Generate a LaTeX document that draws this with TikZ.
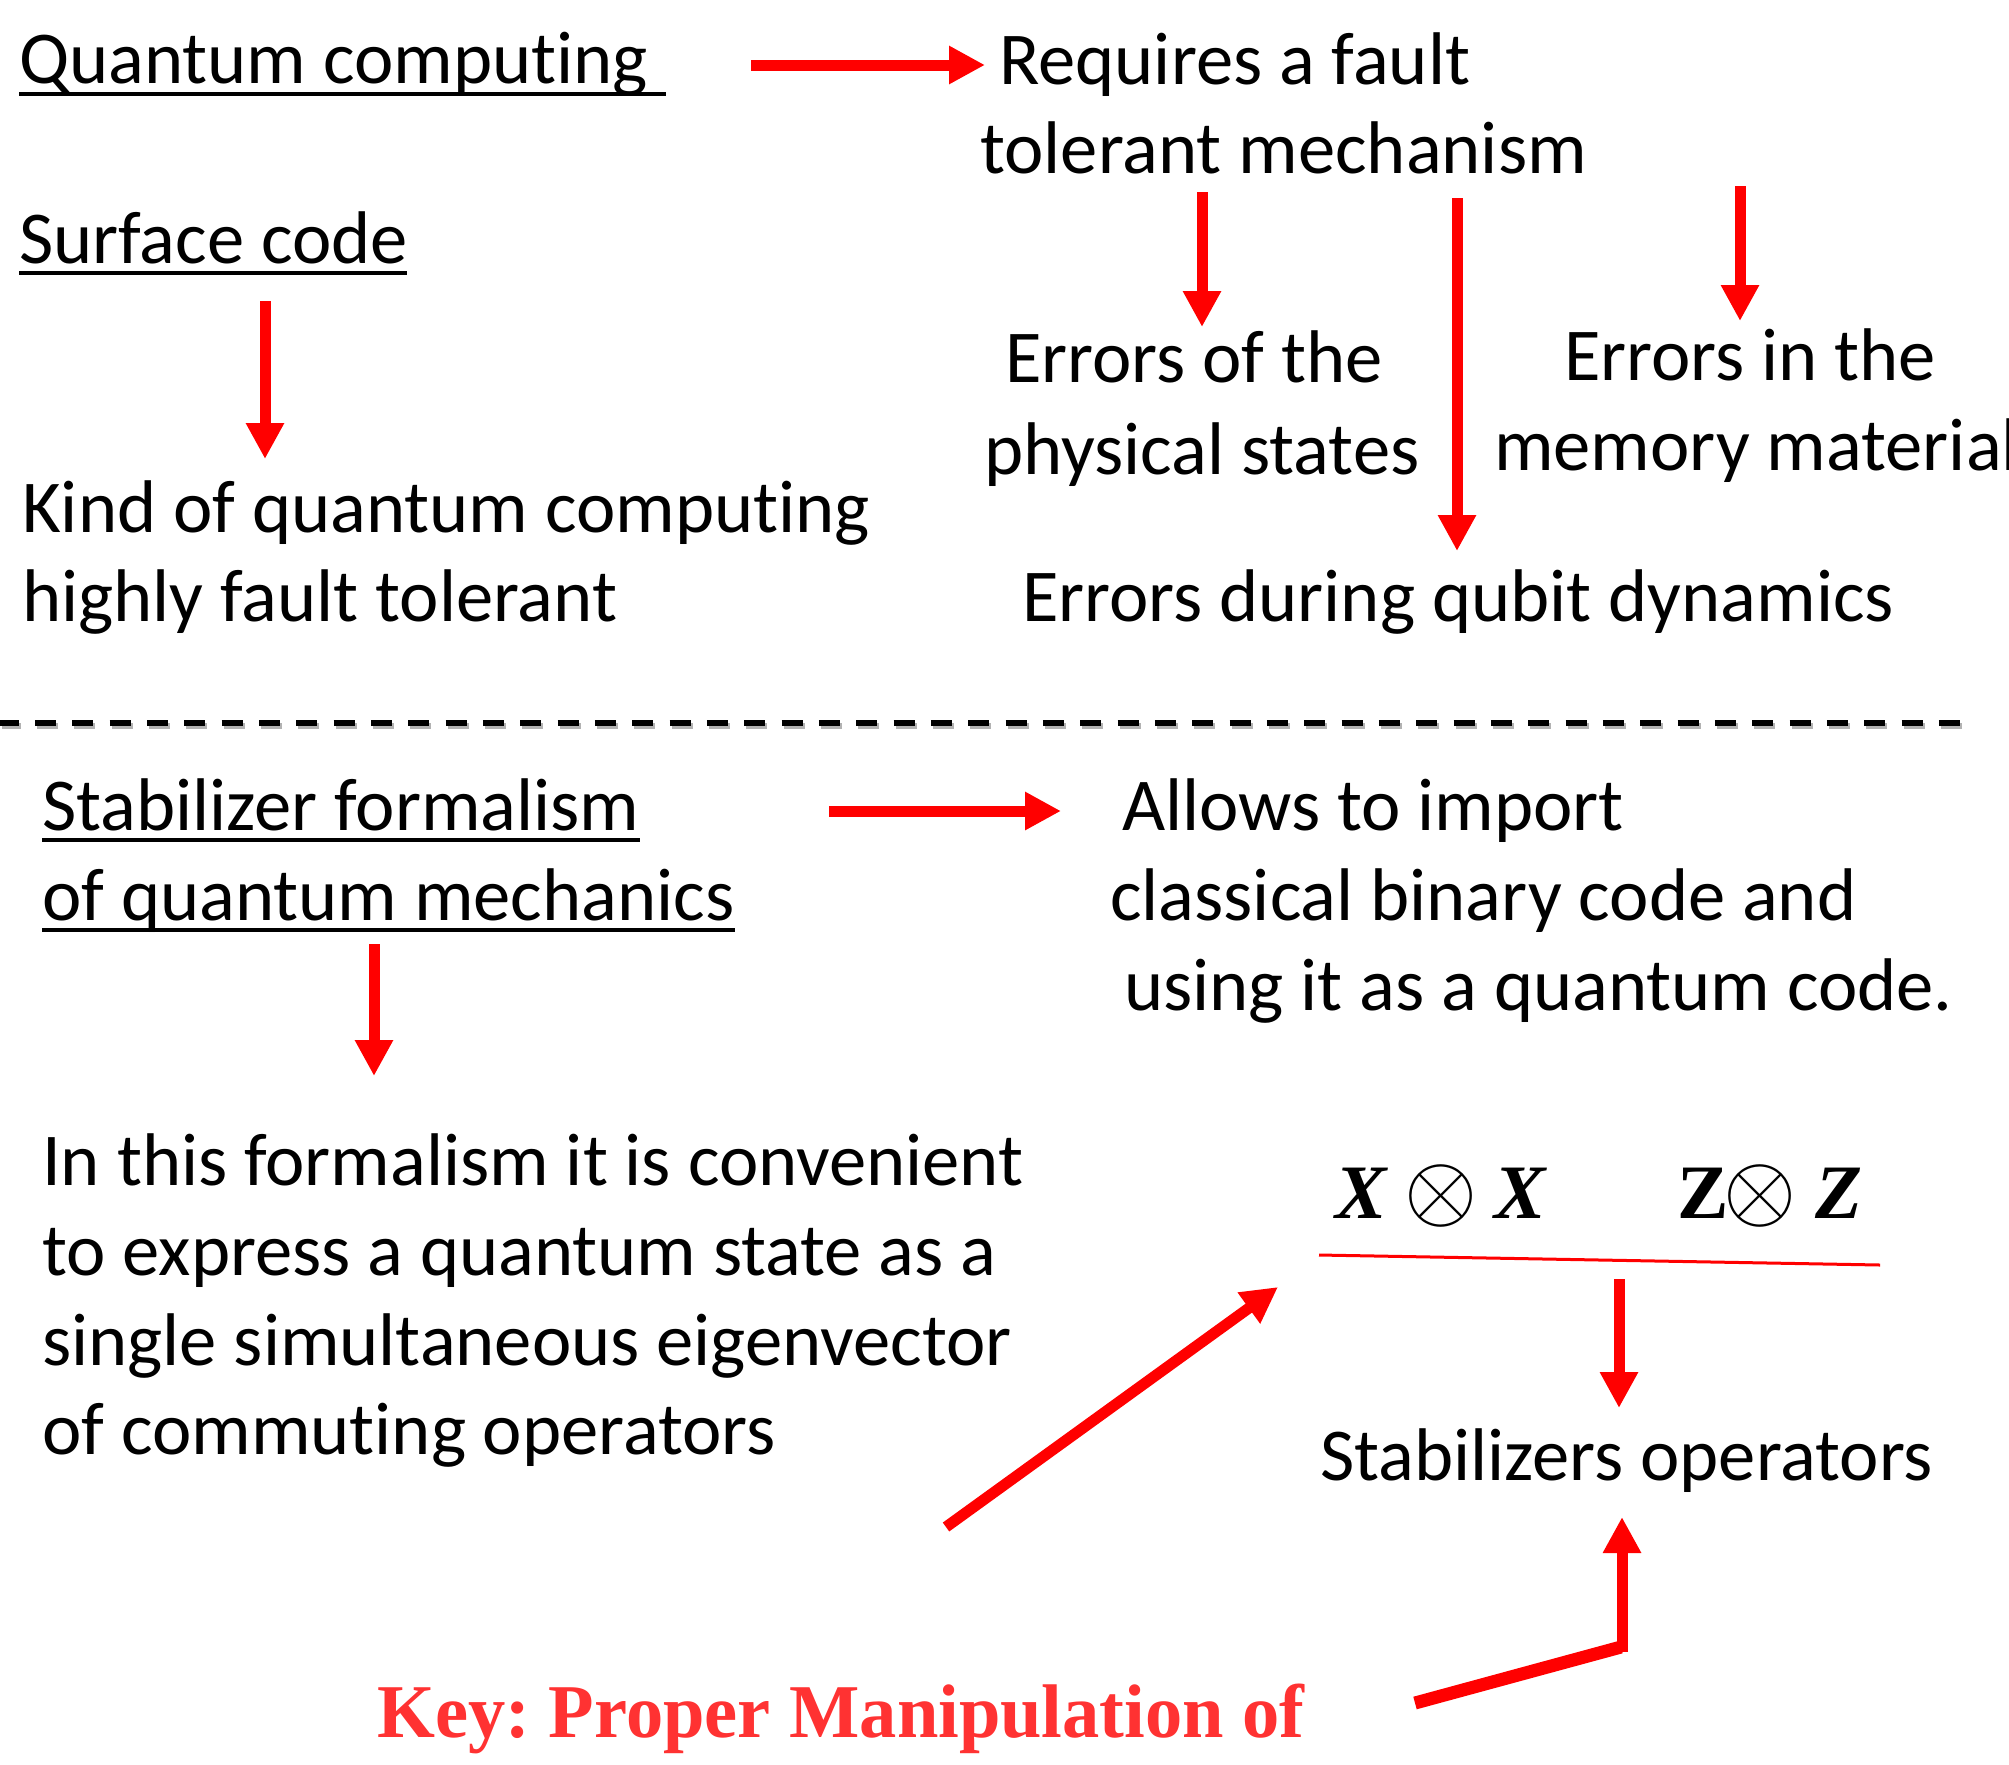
\documentclass[tikz,border=0pt]{standalone}
\usepackage{fontspec}
\setmainfont{Carlito}[Ligatures={NoCommon,NoContextual}, RawFeature={-liga;-clig;-dlig;-calt}]
\newfontfamily\keyfont{Liberation Serif}
\usetikzlibrary{arrows.meta}
\definecolor{keyred}{RGB}{255,50,50}
\frenchspacing
\tikzset{
  txt/.style={anchor=base west, inner sep=0pt, font=\fontsize{74.6}{90}\selectfont},
  ctxt/.style={anchor=base, inner sep=0pt, font=\fontsize{74.6}{90}\selectfont},
  redarrow/.style={draw=red, line width=11pt, -{Triangle[width=36pt,length=36pt]}},
  uline/.style={draw=black, line width=4pt},
  optxt/.style={anchor=base west, inner sep=0pt, font=\keyfont\bfseries\itshape\fontsize{77}{80}\selectfont},
  otimesnode/.style={inner sep=0pt},
}
\begin{document}
\begin{tikzpicture}[x=1pt,y=-1pt]
\useasboundingbox (0,0) rectangle (2009,1764);
% top section
\node[txt] (qc) at (19,83) {Quantum computing};
\draw[uline] (19,94) -- (666,94);
\node[txt] (rq1) at (999,84) {Requires a fault};
\node[txt] (rq2) at (980,173) {tolerant mechanism};
\node[txt] (sc) at (19,263) {Surface code};
\draw[uline] (19,273) -- (407,273);
\node[txt] (kind1) at (22,532) {Kind of quantum computing};
\node[txt] (kind2) at (22,621) {highly fault tolerant};
\node[ctxt] (eo1) at (1194,382) {Errors of the};
\node[ctxt] (eo2) at (1202,474) {physical states};
\node[ctxt] (ei1) at (1750,380) {Errors in the};
\node[txt] (ei2) at (1494,470) {memory material};
\node[txt] (ed) at (1022,621) {Errors during qubit dynamics};
% arrows top
\coordinate (a1s) at (751,65);  \coordinate (a1e) at (985,65);
\coordinate (a2s) at (265,301); \coordinate (a2e) at (265,459);
\coordinate (a3s) at (1202,192); \coordinate (a3e) at (1202,327);
\coordinate (a4s) at (1457,198); \coordinate (a4e) at (1457,551);
\coordinate (a5s) at (1740,186); \coordinate (a5e) at (1740,321);
\draw[redarrow] (a1s) -- (a1e);
\draw[redarrow] (a2s) -- (a2e);
\draw[redarrow] (a3s) -- (a3e);
\draw[redarrow] (a4s) -- (a4e);
\draw[redarrow] (a5s) -- (a5e);
% dashed separator
\coordinate (d1) at (0,723); \coordinate (d2) at (1961,723);
\draw[black!30, line width=6pt, dash pattern=on 21pt off 16.33pt, dash phase=2.3pt] ([xshift=2pt,yshift=-3pt]d1) -- ([xshift=2pt,yshift=-3pt]d2);
\draw[black, line width=6pt, dash pattern=on 21pt off 16.33pt, dash phase=2.3pt] (d1) -- (d2);
% bottom section
\node[txt] (sf1) at (42,830) {Stabilizer formalism};
\draw[uline] (42,840) -- (sf1.base east |- 0,840);
\node[txt] (sf2) at (42,920) {of quantum mechanics};
\draw[uline] (42,930) -- (sf2.base east |- 0,930);
\node[txt] (al1) at (1122,830) {Allows to import};
\node[txt] (al2) at (1110,920) {classical binary code and};
\node[txt] (al3) at (1124,1010) {using it as a quantum code.};
\node[txt] (in1) at (42,1185) {In this formalism it is convenient};
\node[txt] (in2) at (42,1275) {to express a quantum state as a};
\node[txt] (in3) at (42,1365) {single simultaneous eigenvector};
\node[txt] (in4) at (42,1454) {of commuting operators};
% operators
\node[optxt] (x1) at (1335,1218) {X};
\node[otimesnode] (o1) at (1441,1196) {\scalebox{9.4}{$\otimes$}};
\node[optxt] (x2) at (1494,1218) {X};
\node[optxt, font=\keyfont\bfseries\fontsize{77}{80}\selectfont] (z1) at (1677,1218) {Z};
\node[otimesnode] (o2) at (1760,1196) {\scalebox{9.4}{$\otimes$}};
\node[optxt] (z2) at (1815,1218) {Z};
\coordinate (rl1) at (1319,1255); \coordinate (rl2) at (1880,1265);
\draw[red, line width=3pt] (rl1) -- (rl2);
\node[txt] (so) at (1320,1480) {Stabilizers operators};
\node[anchor=base west, inner sep=0pt, text=keyred, font=\keyfont\bfseries\fontsize{76}{80}\selectfont] (key) at (377,1737) {\scalebox{0.98}[1]{Key: Proper Manipulation of}};
% arrows bottom
\coordinate (a6s) at (829,811);  \coordinate (a6e) at (1061,811);
\coordinate (a7s) at (374,944);  \coordinate (a7e) at (374,1076);
\coordinate (a8s) at (946,1527); \coordinate (a8e) at (1278,1287);
\coordinate (a9s) at (1619,1279); \coordinate (a9e) at (1619,1408);
\coordinate (k1) at (1415,1703); \coordinate (k2) at (1621,1647);
\coordinate (k3) at (1622,1652); \coordinate (k4) at (1622,1517);
\draw[redarrow] (a6s) -- (a6e);
\draw[redarrow] (a7s) -- (a7e);
\draw[redarrow] (a8s) -- (a8e);
\draw[redarrow] (a9s) -- (a9e);
\draw[red, line width=13pt] (k1) -- (k2);
\draw[redarrow] (k3) -- (k4);
\end{tikzpicture}
\end{document}
